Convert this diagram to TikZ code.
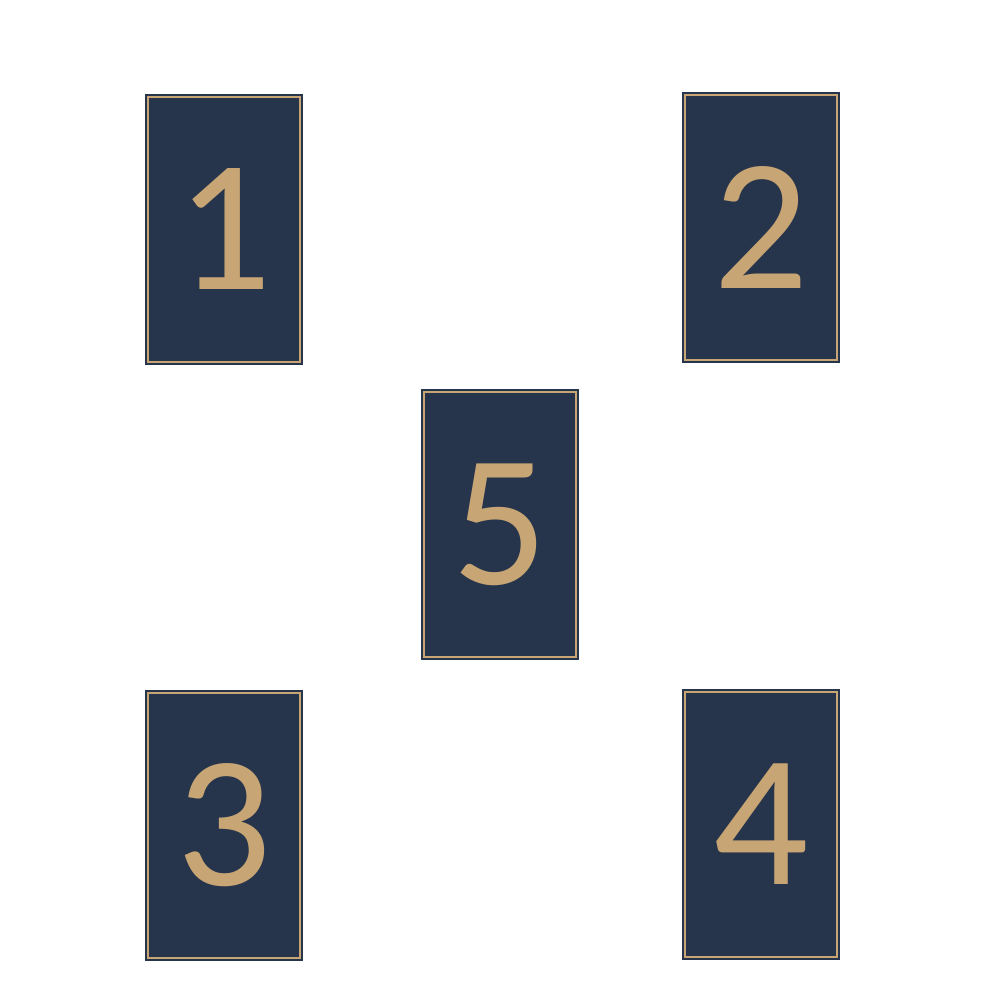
\documentclass[tikz,border=0pt]{standalone}
\usepackage{fontspec}
\setmainfont{Carlito}
\definecolor{cardblue}{HTML}{26354B}
\definecolor{cardgold}{HTML}{C8A574}
\begin{document}
\begin{tikzpicture}[x=1pt, y=-1pt]
    \tikzset{card/.style={fill=cardblue, draw=cardblue, double=cardgold, double distance=1.1pt, line width=2.5pt,
        minimum width=152pt, minimum height=265pt, inner sep=0pt, text=cardgold,
        font=\fontsize{188}{188}\selectfont}}
    \useasboundingbox [fill=white] (0,0) rectangle (1000,1000);
    \node [card] (one) at (224,229.5) {1};
    \node [card] (two) at (761,227.5) {2};
    \node [card] (five) at (500,524.5) {5};
    \node [card] (three) at (224,825.5) {3};
    \node [card] (four) at (761,824.5) {4};
\end{tikzpicture}
\end{document}
